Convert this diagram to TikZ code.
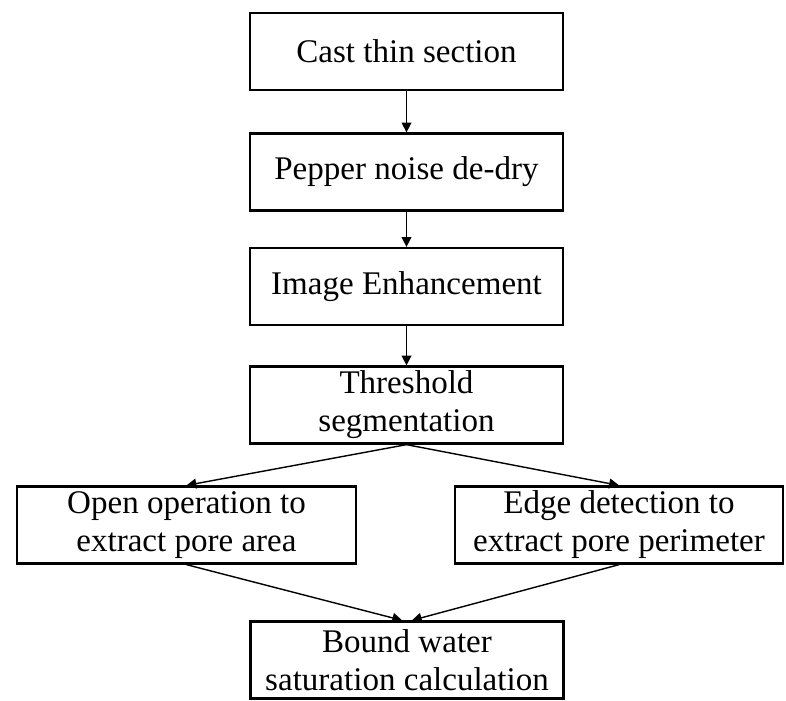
\documentclass[tikz,border=0pt]{standalone}
\usepackage{fontspec}
\setmainfont{Liberation Serif}
\usetikzlibrary{arrows.meta}
\begin{document}
\begin{tikzpicture}[x=0.025cm,y=-0.025cm,
        stepbox/.style={draw,line width=1.6pt,minimum width=7.825cm,minimum height=1.925cm,
            align=center,inner sep=0pt,font=\fontsize{23.5}{27}\selectfont},
        flow/.style={line width=1pt,-{Triangle[length=7pt,width=7pt]}}]
        \useasboundingbox (0, 0) rectangle (786, 700);

        % Main chain
        \node[stepbox] (cast) at (406.5, 51.5) {Cast thin section};
        \node[stepbox] (noise) at (406.5, 172) {Pepper noise de-dry};
        \node[stepbox] (enhance) at (406.5, 286.5) {Image Enhancement};
        \node[stepbox] (thresh) at (406.5, 405) {Threshold\\segmentation};

        % Two branches
        \node[stepbox,minimum width=8.475cm] (open) at (186.5, 525) {Open operation to\\extract pore area};
        \node[stepbox,minimum width=8.2cm] (edge) at (619, 525) {Edge detection to\\extract pore perimeter};

        % Result
        \node[stepbox] (bound) at (407, 660) {Bound water\\saturation calculation};

        \draw[flow] (cast) -- (noise);
        \draw[flow] (noise) -- (enhance);
        \draw[flow] (enhance) -- (thresh);
        \draw[flow] (thresh.south) -- (open.north);
        \draw[flow] (thresh.south) -- (edge.north);
        \draw[flow] (open.south) -- ([xshift=-0.12cm]bound.north);
        \draw[flow] (edge.south) -- ([xshift=0.12cm]bound.north);
\end{tikzpicture}
\end{document}
